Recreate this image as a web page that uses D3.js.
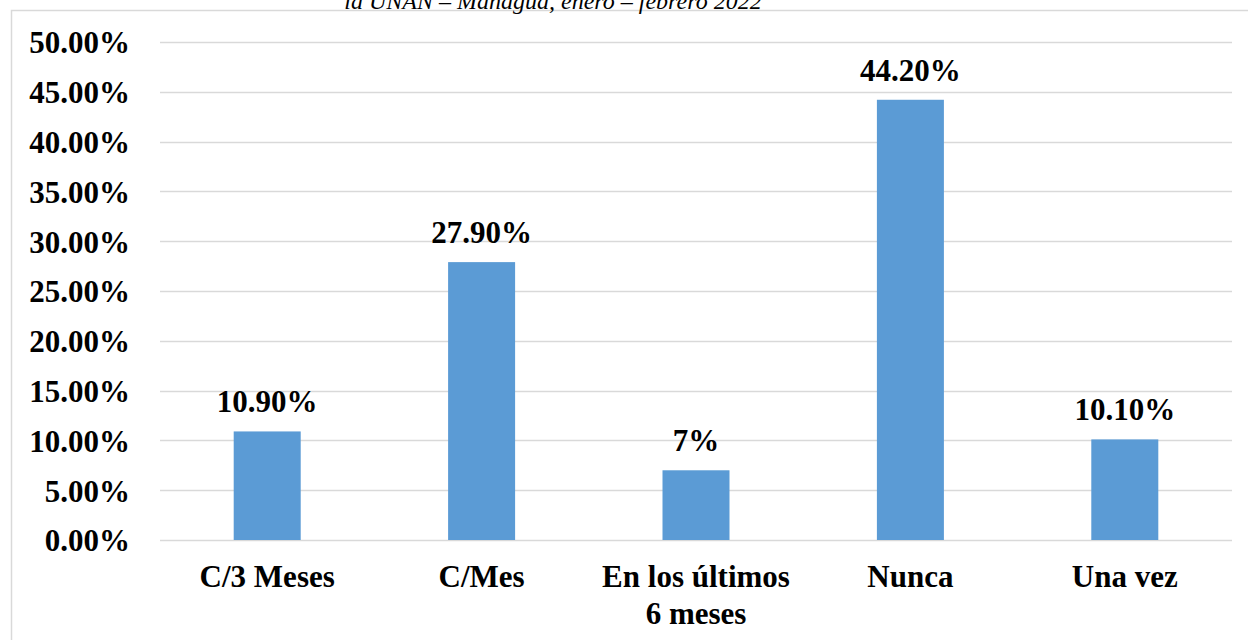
<!DOCTYPE html>
<html>
<head>
<meta charset="utf-8">
<script src="https://cdn.jsdelivr.net/npm/d3@7"></script>
<style>
  html, body { margin: 0; padding: 0; background: #fff; }
  svg { display: block; }
</style>
</head>
<body>
<svg id="chart" width="1248" height="640"></svg>
<script>
// Frequency categories and their shares (percent)
const categories = ["C/3 Meses", "C/Mes", "En los últimos|6 meses", "Nunca", "Una vez"];
const values = [10.9, 27.9, 7, 44.2, 10.1];
const valueLabels = ["10.90%", "27.90%", "7%", "44.20%", "10.10%"];
const yTicks = [0, 5, 10, 15, 20, 25, 30, 35, 40, 45, 50];
const titleText = "la UNAN – Managua, enero – febrero 2022";

const svg = d3.select("#chart");
const W = 1248, H = 640;
const plot = { left: 160, right: 1232, top: 42, bottom: 540 };
const font = "'Liberation Serif', 'Times New Roman', serif";
const labelSize = 31;

// Outer chart frame
svg.append("rect")
  .attr("x", 11.5).attr("y", 10.5)
  .attr("width", W).attr("height", H)
  .attr("fill", "#fff")
  .attr("stroke", "#d9d9d9").attr("stroke-width", 1.5);

// Title (italic, partially above the frame)
svg.append("text")
  .attr("x", 553).attr("y", 9)
  .attr("text-anchor", "middle")
  .attr("font-family", font)
  .attr("font-style", "italic")
  .attr("font-size", 24)
  .attr("fill", "#000")
  .text(titleText);

const x = d3.scaleBand()
  .domain(categories)
  .range([plot.left, plot.right])
  .padding(0);

const y = d3.scaleLinear()
  .domain([0, 50])
  .range([plot.bottom, plot.top]);

const barW = x.bandwidth() * 0.3125;

// Horizontal gridlines
svg.append("g")
  .selectAll("line")
  .data(yTicks)
  .join("line")
  .attr("x1", plot.left).attr("x2", plot.right)
  .attr("y1", d => Math.round(y(d)) + 0.5)
  .attr("y2", d => Math.round(y(d)) + 0.5)
  .attr("stroke", "#d9d9d9")
  .attr("stroke-width", 1.5);

// Y axis labels
const yAxis = d3.axisLeft(y)
  .tickValues(yTicks)
  .tickFormat(d => d.toFixed(2) + "%")
  .tickSize(0)
  .tickPadding(0);

const gy = svg.append("g")
  .attr("transform", `translate(130,0)`)
  .call(yAxis);
gy.select(".domain").remove();
gy.selectAll("text")
  .attr("font-family", font)
  .attr("font-weight", "bold")
  .attr("font-size", labelSize)
  .attr("fill", "#000")
  .attr("dy", "0.35em");

// Bars
svg.append("g")
  .selectAll("rect")
  .data(categories)
  .join("rect")
  .attr("x", d => x(d) + x.bandwidth() / 2 - barW / 2)
  .attr("width", barW)
  .attr("y", (d, i) => y(values[i]))
  .attr("height", (d, i) => y(0) - y(values[i]))
  .attr("fill", "#5b9bd5");

// Value labels
svg.append("g")
  .selectAll("text")
  .data(categories)
  .join("text")
  .attr("x", d => x(d) + x.bandwidth() / 2)
  .attr("y", (d, i) => y(values[i]) - 19)
  .attr("text-anchor", "middle")
  .attr("font-family", font)
  .attr("font-weight", "bold")
  .attr("font-size", labelSize)
  .attr("fill", "#000")
  .text((d, i) => valueLabels[i]);

// Category labels (multi-line where needed)
const xl = svg.append("g")
  .selectAll("text")
  .data(categories)
  .join("text")
  .attr("x", d => x(d) + x.bandwidth() / 2)
  .attr("y", 587)
  .attr("text-anchor", "middle")
  .attr("font-family", font)
  .attr("font-weight", "bold")
  .attr("font-size", labelSize)
  .attr("fill", "#000");

xl.each(function(d) {
  const parts = d.split("|");
  const t = d3.select(this);
  const cx = x(d) + x.bandwidth() / 2;
  parts.forEach((p, i) => {
    t.append("tspan")
      .attr("x", cx)
      .attr("dy", i === 0 ? 0 : 37)
      .text(p);
  });
});
</script>
</body>
</html>
